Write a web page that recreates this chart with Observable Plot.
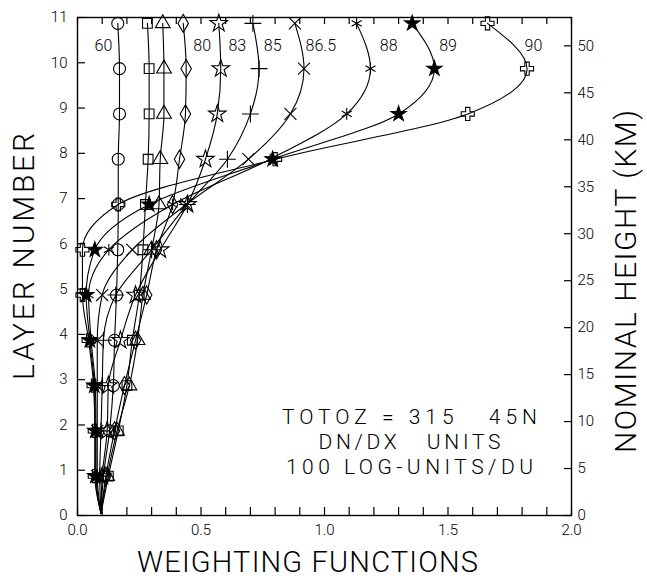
<!DOCTYPE html>
<html><head><meta charset="utf-8">
<script src="https://cdn.jsdelivr.net/npm/d3@7"></script>
<script src="https://cdn.jsdelivr.net/npm/@observablehq/plot@0.6"></script>
<style>body{margin:0;background:#fff} svg{display:block}</style>
</head><body><div id="chart"></div>
<script>
// Layer positions of the computed weights (first entry: where curves start near the ground)
const layers = [0.05, 0.87, 1.87, 2.87, 3.87, 4.87, 5.87, 6.87, 7.87, 8.87, 9.87, 10.87];
// Solar zenith angles of the curves
const zenith = ["60", "70", "75", "80", "83", "85", "86.5", "88", "89", "90"];
// Weighting-function values per zenith angle, one per entry of `layers`
const w60   = [0.095, 0.105, 0.130, 0.145, 0.150, 0.158, 0.163, 0.165, 0.165, 0.170, 0.170, 0.163];
const w70   = [0.095, 0.125, 0.165, 0.200, 0.222, 0.250, 0.265, 0.275, 0.286, 0.290, 0.290, 0.283];
const w75   = [0.095, 0.120, 0.160, 0.210, 0.243, 0.265, 0.300, 0.330, 0.335, 0.350, 0.350, 0.345];
const w80   = [0.095, 0.115, 0.150, 0.190, 0.235, 0.280, 0.320, 0.385, 0.413, 0.437, 0.440, 0.428];
const w83   = [0.095, 0.100, 0.120, 0.125, 0.174, 0.235, 0.335, 0.445, 0.518, 0.566, 0.580, 0.572];
const w85   = [0.095, 0.090, 0.095, 0.100, 0.105, 0.155, 0.300, 0.445, 0.607, 0.700, 0.735, 0.710];
const w865  = [0.095, 0.080, 0.080, 0.080, 0.080, 0.100, 0.222, 0.440, 0.692, 0.862, 0.917, 0.880];
const w88   = [0.095, 0.075, 0.075, 0.072, 0.055, 0.045, 0.127, 0.385, 0.780, 1.090, 1.186, 1.130];
const w89   = [0.095, 0.072, 0.072, 0.068, 0.050, 0.035, 0.070, 0.290, 0.790, 1.300, 1.445, 1.355];
const w90   = [0.095, 0.070, 0.070, 0.065, 0.045, 0.020, 0.020, 0.165, 0.800, 1.580, 1.820, 1.660];
const weights = [w60, w70, w75, w80, w83, w85, w865, w88, w89, w90];

// Curve labels (annotations placed above the curves)
const labelText = ["60", "80", "83", "85", "86.5", "88", "89", "90"];
const labelX = [0.105, 0.505, 0.647, 0.79, 0.985, 1.26, 1.50, 1.846];
const labelY = 10.37;

// Axis ticks
const xMajor = [0, 0.5, 1.0, 1.5, 2.0];
const xMinor = d3.range(0, 21).map(i => i / 10);
const yTicks = d3.range(0, 12);
const kmTicks = [0, 5, 10, 15, 20, 25, 30, 35, 40, 45, 50];
const kmPerLayer = 4.82;

// Note text
const noteLines = ["TOTOZ = 315   45N", "DN/DX   UNITS", "100 LOG-UNITS/DU"];
const noteX = 1.344;
const noteY = [2.16, 1.61, 1.06];

// Titles
const xTitle = "WEIGHTING FUNCTIONS";
const yTitle = "LAYER NUMBER";
const y2Title = "NOMINAL HEIGHT (KM)";

// Marker styles per series
const symbolOf = {"60":"circle","70":"square","75":"triangle","80":"diamond","83":"star","85":"plus","86.5":"times","88":"asterisk","89":"star","90":"cross"};
const fillOf = {"89":"black"};

const rows = [];
zenith.forEach((z, s) => layers.forEach((y, i) => rows.push({z, y, w: weights[s][i], marker: i > 0})));

// frame geometry (px) and conversions for title placement
const W = 647, H = 580, mL = 77, mR = 76, mT = 17, mB = 65;
const xDom = [0, 2], yDom = [0, 11];
const pxX = (xDom[1] - xDom[0]) / (W - mL - mR);
const pxY = (yDom[1] - yDom[0]) / (H - mT - mB);

const font = "Roboto, 'DejaVu Sans', sans-serif";
const kmPos = kmTicks.map(k => k / kmPerLayer);
const tk = {fill: "none", label: null, stroke: "black", strokeWidth: 1.2};

const marks = [
  // tick labels
  Plot.axisX(xMajor, {anchor: "bottom", tickSize: 0, tickPadding: 9, tickFormat: d3.format(".1f"), label: null, fontSize: 15}),
  Plot.axisY(yTicks, {anchor: "left", tickSize: 0, tickPadding: 10, label: null, fontSize: 15}),
  Plot.axisY(kmPos, {anchor: "right", tickSize: 0, tickPadding: 6, tickFormat: d => Math.round(d * kmPerLayer), label: null, fontSize: 15}),
  // curves
  Plot.line(rows, {x: "w", y: "y", z: "z", curve: "monotone-y", stroke: "black", strokeWidth: 1.1}),
];
zenith.forEach(z => {
  marks.push(Plot.dot(rows.filter(d => d.z === z && d.marker), {
    x: "w", y: "y", symbol: symbolOf[z], r: z === "89" ? 4.8 : z === "60" ? 6 : 5.5,
    fill: fillOf[z] || "none", stroke: "black", strokeWidth: 1.1
  }));
});
marks.push(
  Plot.text(labelText, {x: labelX, y: () => labelY, text: d => d, fontSize: 16}),
  Plot.text(noteLines, {x: () => noteX, y: noteY, text: d => d, fontSize: 21}),
  Plot.text([xTitle], {x: () => (307 - mL) * pxX, y: () => -(562 - (H - mB)) * pxY, text: d => d, fontSize: 29}),
  Plot.text([yTitle], {x: () => (24 - mL) * pxX, y: () => ((H - mB) - 256) * pxY, text: d => d, rotate: -90, fontSize: 30}),
  Plot.text([y2Title], {x: () => (626 - mL) * pxX, y: () => ((H - mB) - 281) * pxY, text: d => d, rotate: -90, fontSize: 30}),
  // inward tick marks (outward axis ticks shifted back inside the frame), drawn last
  Plot.axisX(xMinor, {anchor: "bottom", tickSize: 8, dy: -8, ...tk}),
  Plot.axisX(xMinor, {anchor: "top", tickSize: 6, dy: 6, ...tk}),
  Plot.axisY(yTicks, {anchor: "left", tickSize: 8, dx: 8, ...tk}),
  Plot.axisY(kmPos, {anchor: "right", tickSize: 8, dx: -8, ...tk}),
  Plot.frame({stroke: "black", strokeWidth: 1.4})
);

const chart = Plot.plot({
  width: W, height: H,
  marginLeft: mL, marginRight: mR, marginTop: mT, marginBottom: mB,
  x: {domain: xDom},
  y: {domain: yDom},
  style: {fontFamily: font, fontWeight: 300, color: "black", background: "white", overflow: "visible"},
  marks
});
// stretch the lettering to the wide plotter-font widths seen in the reference
const spans = {[xTitle]: 341, [yTitle]: 247, [y2Title]: 343, [noteLines[0]]: 255, [noteLines[1]]: 182, [noteLines[2]]: 247};
d3.select(chart).selectAll("text").each(function() {
  const t = this.textContent;
  if (spans[t]) {
    this.setAttribute("textLength", spans[t]);
    this.setAttribute("lengthAdjust", "spacing");
    this.style.whiteSpace = "pre";
  }
});
document.getElementById("chart").appendChild(chart);
</script>
</body></html>
